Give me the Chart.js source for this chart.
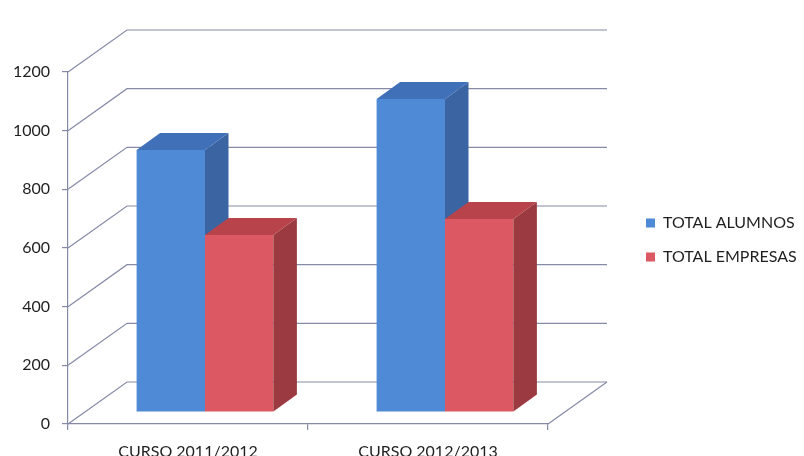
<!DOCTYPE html>
<html>
<head>
<meta charset="utf-8">
<script src="https://cdn.jsdelivr.net/npm/chart.js@4"></script>
<style>
html,body{margin:0;padding:0;background:#fff;}
#wrap{width:804px;height:456px;}
</style>
</head>
<body>
<div id="wrap"><canvas id="c" width="804" height="456"></canvas></div>
<script>
// ---- data ----
const categories = ['CURSO 2011/2012', 'CURSO 2012/2013'];
const seriesNames = ['TOTAL ALUMNOS', 'TOTAL EMPRESAS'];
const totalAlumnos = [893, 1067];
const totalEmpresas = [603, 658];
const yTickValues = [0, 200, 400, 600, 800, 1000, 1200];

// ---- styles ----
const FONT = 'Lato';
const gridColor = '#868aa6';
const textColor = '#1f1f1f';
const faceColors = [
  { front: '#4f8ad6', top: '#3f70b8', side: '#3b64a2' },
  { front: '#dc5862', top: '#b8434b', side: '#9b3a40' }
];
const legendFontSize = 16;
const legendBox = 9;
const legendPad = 18;
const gapWidth = 80;

// measure legend text to place the legend
const mctx = document.createElement('canvas').getContext('2d');
mctx.font = legendFontSize + 'px ' + FONT;
const maxLegendText = Math.max(...seriesNames.map(s => mctx.measureText(s).width));
const legendWidth = legendPad + legendBox + legendFontSize / 2 + maxLegendText + 10;
const padRight = 804 - 548 - gapWidth - legendWidth;

const bar3d = {
  id: 'bar3d',
  beforeDatasetsDraw(chart, args, opts) {
    const { ctx, chartArea } = chart;
    const ys = chart.scales.y;
    const L = chartArea.left, R = chartArea.right, B = chartArea.bottom;
    ctx.save();
    ctx.strokeStyle = gridColor;
    ctx.lineWidth = 1.2;
    yTickValues.forEach(v => {
      const py = ys.getPixelForValue(v);
      ctx.beginPath();
      ctx.moveTo(L, py);
      ctx.lineTo(L + opts.wall.dx, py + opts.wall.dy);
      ctx.lineTo(R + opts.wall.dx, py + opts.wall.dy);
      ctx.stroke();
    });
    ctx.beginPath();
    ctx.moveTo(R, B);
    ctx.lineTo(R + opts.wall.dx, B + opts.wall.dy);
    ctx.stroke();
    ctx.restore();
  },
  beforeDatasetDraw() { return false; },
  afterDatasetsDraw(chart, args, opts) {
    const ctx = chart.ctx;
    const f = opts.front, d = opts.depth;
    chart.data.datasets.forEach((ds, di) => {
      const meta = chart.getDatasetMeta(di);
      const col = faceColors[di];
      meta.data.forEach(el => {
        const p = el.getProps(['x', 'y', 'base', 'width'], true);
        const l = p.x - p.width / 2, r = p.x + p.width / 2;
        const top = Math.min(p.y, p.base), bot = Math.max(p.y, p.base);
        ctx.save();
        ctx.translate(f.dx, f.dy);
        el.draw(ctx);
        // side face
        ctx.fillStyle = col.side;
        ctx.beginPath();
        ctx.moveTo(r, top);
        ctx.lineTo(r + d.dx, top + d.dy);
        ctx.lineTo(r + d.dx, bot + d.dy);
        ctx.lineTo(r, bot);
        ctx.closePath();
        ctx.fill();
        // top face
        ctx.fillStyle = col.top;
        ctx.beginPath();
        ctx.moveTo(l, top);
        ctx.lineTo(l + d.dx, top + d.dy);
        ctx.lineTo(r + d.dx, top + d.dy);
        ctx.lineTo(r, top);
        ctx.closePath();
        ctx.fill();
        ctx.restore();
      });
    });
  }
};

new Chart(document.getElementById('c'), {
  type: 'bar',
  data: {
    labels: categories,
    datasets: [
      { label: seriesNames[0], data: totalAlumnos, backgroundColor: faceColors[0].front, borderWidth: 0 },
      { label: seriesNames[1], data: totalEmpresas, backgroundColor: faceColors[1].front, borderWidth: 0 }
    ]
  },
  options: {
    responsive: false,
    animation: false,
    events: [],
    devicePixelRatio: 1,
    layout: { padding: { top: 24, bottom: 0, left: 0, right: padRight } },
    datasets: { bar: { categoryPercentage: 0.57, barPercentage: 1.0 } },
    scales: {
      x: {
        type: 'category',
        position: 'bottom',
        offset: true,
        grid: { offset: true, drawOnChartArea: false, drawTicks: true, tickLength: 6, color: gridColor, lineWidth: 1.2 },
        border: { display: true, color: gridColor, width: 1.2 },
        ticks: { color: textColor, font: { family: FONT, size: 16 }, padding: 12, maxRotation: 0 },
        afterFit: s => { s.height = 32; }
      },
      y: {
        type: 'linear',
        position: 'left',
        min: 0,
        max: 1200,
        grid: { drawOnChartArea: false, drawTicks: true, tickLength: 6, color: gridColor, lineWidth: 1.2 },
        border: { display: true, color: gridColor, width: 1.2 },
        ticks: { color: textColor, font: { family: FONT, size: 16 }, padding: 12, callback: v => String(v) },
        afterBuildTicks: s => { s.ticks = yTickValues.map(v => ({ value: v })); },
        afterFit: s => { s.width = 68; }
      },
      gap: {
        type: 'linear',
        position: 'right',
        display: true,
        grid: { display: false, drawOnChartArea: false },
        border: { display: false },
        ticks: { display: false },
        afterFit: s => { s.width = gapWidth; }
      }
    },
    plugins: {
      title: { display: true, text: '', font: { size: 1, lineHeight: 1 }, padding: { top: 47, bottom: 0 } },
      legend: {
        position: 'right',
        align: 'center',
        maxWidth: 400,
        labels: {
          boxWidth: legendBox,
          boxHeight: legendBox,
          padding: legendPad,
          color: textColor,
          font: { family: FONT, size: legendFontSize }
        }
      },
      tooltip: { enabled: false },
      bar3d: {
        wall: { dx: 59, dy: -42 },
        front: { dx: 17, dy: -12 },
        depth: { dx: 23.5, dy: -17 }
      }
    }
  },
  plugins: [bar3d]
});
</script>
</body>
</html>
